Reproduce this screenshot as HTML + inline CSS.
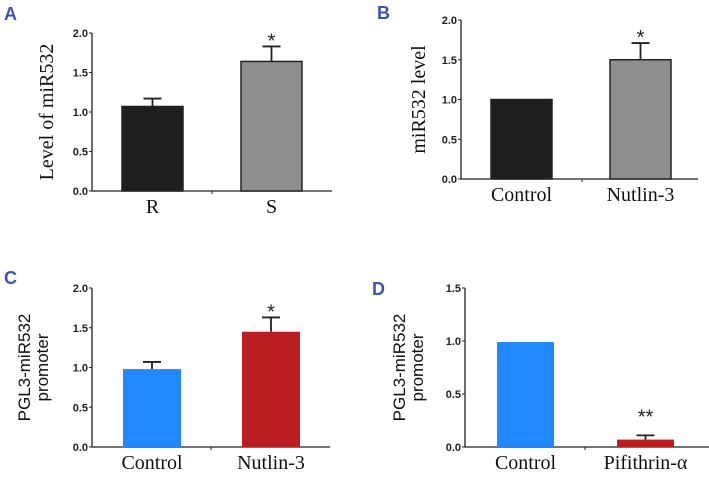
<!DOCTYPE html>
<html><head><meta charset="utf-8"><style>
body{margin:0;background:#fff;width:709px;height:479px;overflow:hidden}
svg{display:block}
.tk{font:bold 11px "Liberation Sans",sans-serif;fill:#222}
.pl{font:bold 18px "Liberation Sans",sans-serif;fill:#3f51b5}
</style></head><body>
<svg id="fig" width="709" height="479"></svg>
<script>
// Panel A
const catsA = ["R","S"];
const valsA = [1.07,1.64];
const errA = [1.17,1.83];
const ticksA = ["0.0","0.5","1.0","1.5","2.0"];
// Panel B
const catsB = ["Control","Nutlin-3"];
const valsB = [1.0,1.5];
const errB = [1.0,1.71];
const ticksB = ["0.0","0.5","1.0","1.5","2.0"];
// Panel C
const catsC = ["Control","Nutlin-3"];
const valsC = [0.98,1.45];
const errC = [1.07,1.63];
const ticksC = ["0.0","0.5","1.0","1.5","2.0"];
// Panel D
const catsD = ["Control","Pifithrin-α"];
const valsD = [0.99,0.07];
const errD = [0.99,0.11];
const ticksD = ["0.0","0.5","1.0","1.5"];

const NS="http://www.w3.org/2000/svg";
const svg=document.getElementById('fig');
function mk(tag,attrs,parent){const e=document.createElementNS(NS,tag);for(const k in attrs)e.setAttribute(k,attrs[k]);(parent||svg).appendChild(e);return e;}

function panel(p){
  const g=mk('g',{});
  
  
  const ymax=parseFloat(p.ticks[p.ticks.length-1]);
  const y=v=>p.y0-(v/ymax)*(p.y0-p.ytop);
  const lab=mk('text',{x:p.lx,y:p.ly,class:'pl'},g);lab.textContent=p.id;
  
  
  const ya=mk('line',{x1:p.ax,x2:p.ax,y1:p.ytop,y2:p.y0,stroke:'#222','stroke-width':1.3},g);
  
  
  const xa=mk('line',{x1:p.ax,x2:p.xend,y1:p.y0,y2:p.y0,stroke:'#222','stroke-width':1.3},g);
  
  
  mk('line',{x1:p.mid,x2:p.mid,y1:p.y0,y2:p.y0+3,stroke:'#222'},g);
  p.ticks.forEach(t=>{
    const yy=y(parseFloat(t));
    mk('line',{x1:p.ax-3,x2:p.ax,y1:yy,y2:yy,stroke:'#222'},g);
    const tt=mk('text',{x:p.ax-4,y:yy+4,class:'tk','text-anchor':'end'},g);tt.textContent=t;
    
    
  });
  p.cats.forEach((c,i)=>{
    const x0=p.bx[i], w=p.bw;
    const yv=y(p.vals[i]), ye=y(p.err[i]);
    const cx=x0+w/2;
    if(p.err[i]>p.vals[i]){
      mk('line',{x1:cx,x2:cx,y1:yv,y2:ye,stroke:'#222','stroke-width':1.8},g);
      mk('line',{x1:cx-9,x2:cx+9,y1:ye,y2:ye,stroke:'#222','stroke-width':1.8},g);
    }
    const b=mk('rect',{x:x0,y:yv,width:w,height:p.y0-yv,fill:p.colors[i],stroke:p.stroke?'#222':'none','stroke-width':p.stroke?1.5:0},g);
    
    
    const ct=mk('text',{x:cx,y:p.y0+22,'text-anchor':'middle','font-family':'Liberation Serif, serif','font-size':p.cfs,fill:'#111'},g);ct.textContent=c;
    
    
    if(p.sig[i]){
      const s=mk('text',{x:cx,y:Math.min(ye,yv)-p.sigOff+6,'text-anchor':'middle','font-family':'Liberation Sans, sans-serif','font-size':20,fill:'#222'},g);s.textContent=p.sig[i];
      
      
    }
  });
  const yt=mk('text',{'text-anchor':'middle',transform:`translate(${p.tx},${(p.ytop+p.y0)/2}) rotate(-90)`,'font-family':p.tfont,'font-size':p.tfs,fill:'#111'},g);
  p.title.forEach((l,i)=>{const ts=mk('tspan',{x:0,dy:i?p.tfs*1.05:0},yt);ts.textContent=l;});
  
  
}

panel({id:'A',cats:catsA,vals:valsA,err:errA,ticks:ticksA,lx:4,ly:20,ax:92,xend:332,y0:191,ytop:33,mid:212,bx:[122,241],bw:61,
  colors:['#1e1e1e','#8e8e8e'],stroke:true,cfs:20,sig:['','*'],sigOff:5,tx:53,title:['Level of miR532'],tfont:'Liberation Serif, serif',tfs:20});
panel({id:'B',cats:catsB,vals:valsB,err:errB,ticks:ticksB,lx:377,ly:19,ax:461,xend:698,y0:179,ytop:20,mid:582,bx:[491,610],bw:61,
  colors:['#1e1e1e','#8e8e8e'],stroke:true,cfs:20,sig:['','*'],sigOff:5,tx:425,title:['miR532 level'],tfont:'Liberation Serif, serif',tfs:20});
panel({id:'C',cats:catsC,vals:valsC,err:errC,ticks:ticksC,lx:4,ly:284,ax:92,xend:330,y0:447,ytop:288,mid:211,bx:[123,242],bw:58,
  colors:['#2288ff','#bb1e22'],stroke:false,cfs:20,sig:['','*'],sigOff:5,tx:30,title:['PGL3-miR532','promoter'],tfont:'Liberation Sans, sans-serif',tfs:17});
panel({id:'D',cats:catsD,vals:valsD,err:errD,ticks:ticksD,lx:372,ly:295,ax:465,xend:709,y0:447,ytop:288,mid:585,bx:[497,617],bw:57,
  colors:['#2288ff','#bb1e22'],stroke:false,cfs:20,sig:['','**'],sigOff:18,tx:405,title:['PGL3-miR532','promoter'],tfont:'Liberation Sans, sans-serif',tfs:17});
</script>
</body></html>
